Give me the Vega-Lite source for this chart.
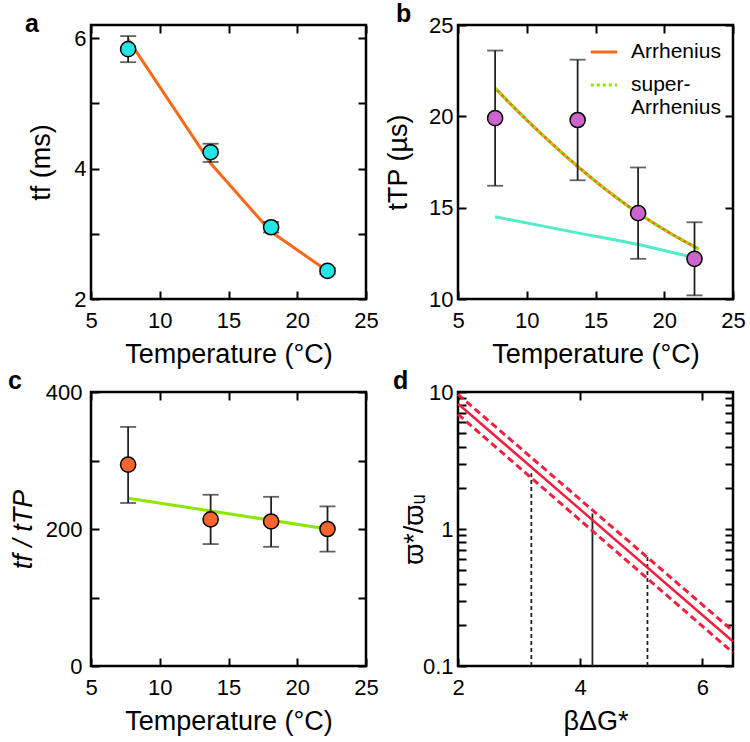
{
  "$schema": "https://vega.github.io/schema/vega-lite/v6.json",
  "padding": {"left": 6, "top": 0, "right": 4, "bottom": 4},
  "bounds": "flush",
  "columns": 2,
  "spacing": {"row": 93, "column": 92},
  "resolve": {"scale": {"color": "independent", "strokeDash": "independent"}, "legend": {"color": "independent", "strokeDash": "independent"}},
  "config": {
    "font": "Liberation Sans",
    "view": {"stroke": "black", "strokeWidth": 2.5},
    "axis": {"domain": false, "grid": false, "tickSize": -8, "tickWidth": 2, "tickColor": "black", "labelFont": "Liberation Sans", "labelFontSize": 22, "labelColor": "black", "titleFont": "Liberation Sans", "titleFontSize": 27, "titleFontWeight": "normal", "titleColor": "black", "labelFlush": false, "labelOverlap": false},
    "axisX": {"labelPadding": 19, "titlePadding": 10},
    "axisY": {"labelPadding": 13, "titlePadding": 9},
    "title": {"fontSize": 25, "fontWeight": "bold", "anchor": "start", "frame": "group", "baseline": "alphabetic", "offset": -13, "color": "black", "font": "Liberation Sans"},
    "legend": {"labelFont": "Liberation Sans", "labelFontSize": 21, "labelColor": "black", "symbolType": "stroke", "symbolStrokeWidth": 3, "symbolSize": 700, "labelOffset": 12, "rowPadding": 8, "padding": 0, "offset": 12}
  },
  "datasets": {
    "aPts": [
      {"T": 7.7, "v": 5.83, "lo": 5.63, "hi": 6.03},
      {"T": 13.7, "v": 4.25, "lo": 4.10, "hi": 4.38},
      {"T": 18.1, "v": 3.10, "lo": 3.02, "hi": 3.18},
      {"T": 22.2, "v": 2.43, "lo": 2.38, "hi": 2.48}
    ],
    "aFit": [
      {"T": 7.7, "v": 5.98}, {"T": 13.7, "v": 4.08}, {"T": 18.1, "v": 3.03}, {"T": 22.2, "v": 2.43}
    ],
    "bPts": [
      {"T": 7.7, "v": 19.9, "lo": 16.2, "hi": 23.6},
      {"T": 13.7, "v": 19.8, "lo": 16.5, "hi": 23.1},
      {"T": 18.1, "v": 14.7, "lo": 12.2, "hi": 17.2},
      {"T": 22.2, "v": 12.2, "lo": 10.2, "hi": 14.2}
    ],
    "bFit": [
      {"model": "Arrhenius", "T": 7.7, "v": 21.54}, {"model": "Arrhenius", "T": 10, "v": 19.8},
      {"model": "Arrhenius", "T": 13.7, "v": 17.26}, {"model": "Arrhenius", "T": 16, "v": 15.85},
      {"model": "Arrhenius", "T": 18.1, "v": 14.71}, {"model": "Arrhenius", "T": 20, "v": 13.8},
      {"model": "Arrhenius", "T": 22.5, "v": 12.74},
      {"model": "super-Arrhenius", "T": 7.7, "v": 21.54}, {"model": "super-Arrhenius", "T": 10, "v": 19.8},
      {"model": "super-Arrhenius", "T": 13.7, "v": 17.26}, {"model": "super-Arrhenius", "T": 16, "v": 15.85},
      {"model": "super-Arrhenius", "T": 18.1, "v": 14.71}, {"model": "super-Arrhenius", "T": 20, "v": 13.8},
      {"model": "super-Arrhenius", "T": 22.5, "v": 12.74}
    ],
    "bCyan": [
      {"T": 7.7, "v": 14.5}, {"T": 13.7, "v": 13.62}, {"T": 18.1, "v": 12.98}, {"T": 22.2, "v": 12.25}
    ],
    "cPts": [
      {"T": 7.7, "v": 294, "lo": 238, "hi": 349},
      {"T": 13.7, "v": 214, "lo": 178, "hi": 250},
      {"T": 18.1, "v": 211, "lo": 174, "hi": 247},
      {"T": 22.2, "v": 200, "lo": 167, "hi": 233}
    ],
    "cFit": [
      {"T": 7.7, "v": 245}, {"T": 22.2, "v": 200}
    ],
    "dLines": [
      {"band": "center", "x": 2, "y": 8.2}, {"band": "center", "x": 6.5, "y": 0.151},
      {"band": "upper", "x": 2, "y": 9.6}, {"band": "upper", "x": 6.5, "y": 0.18},
      {"band": "lower", "x": 2, "y": 6.87}, {"band": "lower", "x": 6.5, "y": 0.125}
    ],
    "dVert": [
      {"x": 3.2, "y0": 0.1, "y1": 2.55, "style": "dash"},
      {"x": 4.2, "y0": 0.1, "y1": 1.3, "style": "solid"},
      {"x": 5.1, "y0": 0.1, "y1": 0.66, "style": "dash"}
    ]
  },
  "concat": [
    {
      "width": 275, "height": 274,
      "title": {"text": "a", "dx": -66},
      "resolve": {"axis": {"x": "independent", "y": "independent"}},
      "layer": [
        {
          "data": {"name": "aFit"},
          "mark": {"type": "line", "color": "#F86A1A", "strokeWidth": 3},
          "encoding": {
            "x": {"field": "T", "type": "quantitative", "scale": {"domain": [5, 25], "nice": false, "zero": false}, "axis": {"orient": "bottom", "values": [5, 10, 15, 20, 25], "title": "Temperature (°C)"}},
            "y": {"field": "v", "type": "quantitative", "scale": {"domain": [2, 6.2], "nice": false, "zero": false}, "axis": {"orient": "left", "values": [2, 3, 4, 5, 6], "labelExpr": "datum.value % 2 === 0 ? datum.label : ''", "title": "tf (ms)", "titlePadding": 18}}
          }
        },
        {
          "data": {"name": "aPts"},
          "mark": {"type": "errorbar", "color": "#222222", "thickness": 1.8, "ticks": {"size": 16, "thickness": 1.8, "color": "#222222"}},
          "encoding": {
            "x": {"field": "T", "type": "quantitative", "scale": {"domain": [5, 25], "nice": false, "zero": false}, "axis": null},
            "y": {"field": "lo", "type": "quantitative", "scale": {"domain": [2, 6.2], "nice": false, "zero": false}, "axis": null},
            "y2": {"field": "hi"}
          }
        },
        {
          "data": {"name": "aPts"},
          "mark": {"type": "circle", "size": 230, "fill": "#22E6E6", "stroke": "black", "strokeWidth": 1.5, "opacity": 1, "fillOpacity": 1},
          "encoding": {
            "x": {"field": "T", "type": "quantitative", "scale": {"domain": [5, 25], "nice": false, "zero": false}, "axis": {"orient": "top", "values": [5, 10, 15, 20, 25], "labels": false, "title": null}},
            "y": {"field": "v", "type": "quantitative", "scale": {"domain": [2, 6.2], "nice": false, "zero": false}, "axis": {"orient": "right", "values": [2, 3, 4, 5, 6], "labels": false, "title": null}}
          }
        }
      ]
    },
    {
      "width": 275, "height": 274,
      "title": {"text": "b", "dx": -62},
      "resolve": {"axis": {"x": "independent", "y": "independent"}},
      "layer": [
        {
          "data": {"name": "bCyan"},
          "mark": {"type": "line", "color": "#50ECCC", "strokeWidth": 3, "interpolate": "monotone"},
          "encoding": {
            "x": {"field": "T", "type": "quantitative", "scale": {"domain": [5, 25], "nice": false, "zero": false}, "axis": {"orient": "bottom", "values": [5, 10, 15, 20, 25], "title": "Temperature (°C)"}},
            "y": {"field": "v", "type": "quantitative", "scale": {"domain": [10, 25], "nice": false, "zero": false}, "axis": {"orient": "left", "values": [10, 15, 20, 25], "title": "tTP (µs)", "titlePadding": 16}}
          }
        },
        {
          "data": {"name": "bFit"},
          "mark": {"type": "line", "strokeWidth": 3, "interpolate": "monotone"},
          "encoding": {
            "x": {"field": "T", "type": "quantitative", "scale": {"domain": [5, 25], "nice": false, "zero": false}, "axis": null},
            "y": {"field": "v", "type": "quantitative", "scale": {"domain": [10, 25], "nice": false, "zero": false}, "axis": null},
            "color": {"field": "model", "type": "nominal", "scale": {"domain": ["Arrhenius", "super-Arrhenius"], "range": ["#F86A1A", "#8CE600"]}, "legend": {"title": null, "orient": "top-right", "labelExpr": "datum.label == 'super-Arrhenius' ? ['super-', 'Arrhenius'] : datum.label"}},
            "strokeDash": {"field": "model", "type": "nominal", "scale": {"domain": ["Arrhenius", "super-Arrhenius"], "range": [[1, 0], [3, 3]]}, "legend": {"title": null, "orient": "top-right", "labelExpr": "datum.label == 'super-Arrhenius' ? ['super-', 'Arrhenius'] : datum.label"}}
          }
        },
        {
          "data": {"name": "bPts"},
          "mark": {"type": "errorbar", "color": "#222222", "thickness": 1.8, "ticks": {"size": 16, "thickness": 1.8, "color": "#222222"}},
          "encoding": {
            "x": {"field": "T", "type": "quantitative", "scale": {"domain": [5, 25], "nice": false, "zero": false}, "axis": null},
            "y": {"field": "lo", "type": "quantitative", "scale": {"domain": [10, 25], "nice": false, "zero": false}, "axis": null},
            "y2": {"field": "hi"}
          }
        },
        {
          "data": {"name": "bPts"},
          "mark": {"type": "circle", "size": 230, "fill": "#CC66CC", "stroke": "black", "strokeWidth": 1.5, "opacity": 1, "fillOpacity": 1},
          "encoding": {
            "x": {"field": "T", "type": "quantitative", "scale": {"domain": [5, 25], "nice": false, "zero": false}, "axis": {"orient": "top", "values": [5, 10, 15, 20, 25], "labels": false, "title": null}},
            "y": {"field": "v", "type": "quantitative", "scale": {"domain": [10, 25], "nice": false, "zero": false}, "axis": {"orient": "right", "values": [10, 15, 20, 25], "labels": false, "title": null}}
          }
        }
      ]
    },
    {
      "width": 275, "height": 274,
      "title": {"text": "c", "dx": -83},
      "resolve": {"axis": {"x": "independent", "y": "independent"}},
      "layer": [
        {
          "data": {"name": "cFit"},
          "mark": {"type": "line", "color": "#8CE600", "strokeWidth": 3},
          "encoding": {
            "x": {"field": "T", "type": "quantitative", "scale": {"domain": [5, 25], "nice": false, "zero": false}, "axis": {"orient": "bottom", "values": [5, 10, 15, 20, 25], "title": "Temperature (°C)"}},
            "y": {"field": "v", "type": "quantitative", "scale": {"domain": [0, 400], "nice": false, "zero": false}, "axis": {"orient": "left", "values": [0, 100, 200, 300, 400], "labelExpr": "datum.value % 200 === 0 ? datum.label : ''", "labelPadding": 17, "title": "tf / tTP", "titleFontStyle": "italic", "titlePadding": 8}}
          }
        },
        {
          "data": {"name": "cPts"},
          "mark": {"type": "errorbar", "color": "#222222", "thickness": 1.8, "ticks": {"size": 16, "thickness": 1.8, "color": "#222222"}},
          "encoding": {
            "x": {"field": "T", "type": "quantitative", "scale": {"domain": [5, 25], "nice": false, "zero": false}, "axis": null},
            "y": {"field": "lo", "type": "quantitative", "scale": {"domain": [0, 400], "nice": false, "zero": false}, "axis": null},
            "y2": {"field": "hi"}
          }
        },
        {
          "data": {"name": "cPts"},
          "mark": {"type": "circle", "size": 230, "fill": "#F96430", "stroke": "black", "strokeWidth": 1.5, "opacity": 1, "fillOpacity": 1},
          "encoding": {
            "x": {"field": "T", "type": "quantitative", "scale": {"domain": [5, 25], "nice": false, "zero": false}, "axis": {"orient": "top", "values": [5, 10, 15, 20, 25], "labels": false, "title": null}},
            "y": {"field": "v", "type": "quantitative", "scale": {"domain": [0, 400], "nice": false, "zero": false}, "axis": {"orient": "right", "values": [0, 100, 200, 300, 400], "labels": false, "title": null}}
          }
        }
      ]
    },
    {
      "width": 275, "height": 274,
      "title": {"text": "d", "dx": -65},
      "resolve": {"axis": {"x": "independent", "y": "independent"}},
      "layer": [
        {
          "data": {"name": "dVert"},
          "transform": [{"filter": "datum.style == 'dash'"}],
          "mark": {"type": "rule", "color": "#222222", "strokeWidth": 1.8, "strokeDash": [4, 3]},
          "encoding": {
            "x": {"field": "x", "type": "quantitative", "scale": {"domain": [2, 6.5], "nice": false, "zero": false}, "axis": {"orient": "bottom", "values": [2, 4, 6], "title": "βΔG*"}},
            "y": {"field": "y0", "type": "quantitative", "scale": {"type": "log", "domain": [0.1, 10], "nice": false}, "axis": {"orient": "left", "values": [0.1, 0.2, 0.3, 0.4, 0.5, 0.6, 0.7, 0.8, 0.9, 1, 2, 3, 4, 5, 6, 7, 8, 9, 10], "format": "~g", "labelExpr": "datum.value == 0.1 || datum.value == 1 || datum.value == 10 ? datum.label : ''", "title": "ϖ*/ϖᵤ", "titlePadding": -6}},
            "y2": {"field": "y1"}
          }
        },
        {
          "data": {"name": "dVert"},
          "transform": [{"filter": "datum.style == 'solid'"}],
          "mark": {"type": "rule", "color": "#222222", "strokeWidth": 1.8},
          "encoding": {
            "x": {"field": "x", "type": "quantitative", "scale": {"domain": [2, 6.5], "nice": false, "zero": false}, "axis": null},
            "y": {"field": "y0", "type": "quantitative", "scale": {"type": "log", "domain": [0.1, 10], "nice": false}, "axis": null},
            "y2": {"field": "y1"}
          }
        },
        {
          "data": {"name": "dLines"},
          "transform": [{"filter": "datum.band == 'center'"}],
          "mark": {"type": "line", "color": "#F0203F", "strokeWidth": 2.5},
          "encoding": {
            "x": {"field": "x", "type": "quantitative", "scale": {"domain": [2, 6.5], "nice": false, "zero": false}, "axis": null},
            "y": {"field": "y", "type": "quantitative", "scale": {"type": "log", "domain": [0.1, 10], "nice": false}, "axis": null}
          }
        },
        {
          "data": {"name": "dLines"},
          "transform": [{"filter": "datum.band != 'center'"}],
          "mark": {"type": "line", "color": "#F0203F", "strokeWidth": 3, "strokeDash": [7, 4]},
          "encoding": {
            "x": {"field": "x", "type": "quantitative", "scale": {"domain": [2, 6.5], "nice": false, "zero": false}, "axis": {"orient": "top", "values": [2, 4, 6], "labels": false, "title": null}},
            "y": {"field": "y", "type": "quantitative", "scale": {"type": "log", "domain": [0.1, 10], "nice": false}, "axis": {"orient": "right", "values": [0.1, 0.2, 0.3, 0.4, 0.5, 0.6, 0.7, 0.8, 0.9, 1, 2, 3, 4, 5, 6, 7, 8, 9, 10], "labels": false, "title": null}},
            "detail": {"field": "band", "type": "nominal"}
          }
        }
      ]
    }
  ]
}
